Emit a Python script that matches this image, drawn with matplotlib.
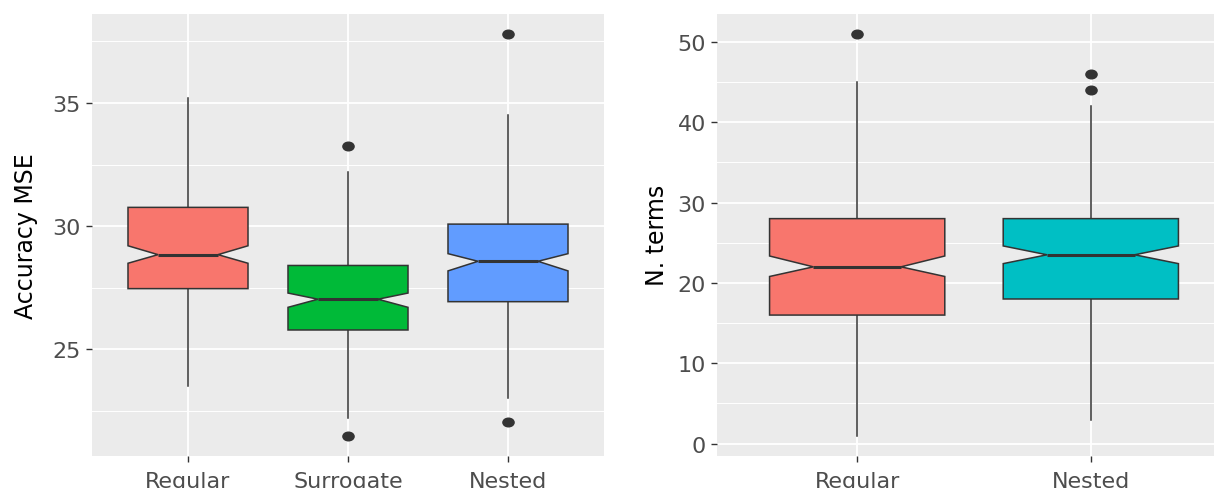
import matplotlib
matplotlib.use("Agg")
import matplotlib.pyplot as plt
from matplotlib.markers import MarkerStyle
from matplotlib.transforms import Affine2D
import numpy as np

# ---- data ----
acc_categories = ["Regular", "Surrogate", "Nested"]
acc_whislo = [23.49, 22.20, 23.01]
acc_q1 = [27.46, 25.78, 26.93]
acc_med = [28.84, 27.03, 28.57]
acc_q3 = [30.76, 28.40, 30.08]
acc_whishi = [35.20, 32.19, 34.53]
acc_cilo = [28.49, 26.70, 28.18]
acc_cihi = [29.20, 27.28, 28.88]
acc_fliers = [[], [33.24, 21.49], [37.81, 22.03]]
acc_yticks = [25, 30, 35]

nt_categories = ["Regular", "Nested"]
nt_whislo = [1.0, 3.0]
nt_q1 = [16.0, 18.0]
nt_med = [22.0, 23.5]
nt_q3 = [28.0, 28.0]
nt_whishi = [45.0, 42.0]
nt_cilo = [20.8, 22.4]
nt_cihi = [23.35, 24.6]
nt_fliers = [[51.0], [46.0, 44.0]]
nt_yticks = [0, 10, 20, 30, 40, 50]

acc_colors = ["#F8766D", "#00BA38", "#619CFF"]
nt_colors = ["#F8766D", "#00BFC4"]

plt.rcParams["font.family"] = ["DejaVu Sans"]

W, H = 1214, 489
fig = plt.figure(figsize=(W / 100, H / 100), dpi=100)
fig.patch.set_facecolor("white")

def px_axes(x0, x1, y0, y1):
    return fig.add_axes([x0 / W, 1 - y1 / H, (x1 - x0) / W, (y1 - y0) / H])

ax1 = px_axes(92, 604, 14.7, 456.7)
ax2 = px_axes(717, 1231, 14.7, 456.7)

flier_marker = MarkerStyle("o", transform=Affine2D().scale(1.3, 1.0))
EDGE = "#333333"

def draw(ax, cats, wlo, q1, med, q3, whi, cilo, cihi, fliers, colors, yticks, ylabel, labx):
    stats = []
    for i in range(len(cats)):
        stats.append(dict(label=cats[i], whislo=wlo[i], q1=q1[i], med=med[i], q3=q3[i],
                          whishi=whi[i], cilo=cilo[i], cihi=cihi[i], fliers=fliers[i]))
    pos = np.arange(1, len(cats) + 1)
    bp = ax.bxp(stats, positions=pos, widths=0.75, shownotches=True, showcaps=False,
                patch_artist=True, showfliers=True,
                boxprops=dict(edgecolor=EDGE, linewidth=1.1),
                whiskerprops=dict(color=EDGE, linewidth=1.1),
                medianprops=dict(color=EDGE, linewidth=2.2, solid_capstyle="butt"),
                flierprops=dict(marker=flier_marker, markerfacecolor=EDGE, markeredgecolor=EDGE,
                                markersize=6.2, linestyle="none"))
    for patch, c in zip(bp["boxes"], colors):
        patch.set_facecolor(c)
    for w in bp["whiskers"]:
        w.set_zorder(1.5)
    ax.set_facecolor("#EBEBEB")
    for s in ax.spines.values():
        s.set_visible(False)
    ax.set_yticks(yticks)
    step = yticks[1] - yticks[0]
    minor = [t + step / 2 for t in [yticks[0] - step] + yticks]
    ax.set_yticks(minor, minor=True)
    ax.set_xticks(pos)
    ax.set_xticklabels(cats)
    allv = [v for v in wlo + whi] + [v for f in fliers for v in f]
    lo, hi = min(allv), max(allv)
    pad = 0.05 * (hi - lo)
    ax.set_ylim(lo - pad, hi + pad)
    ax.set_xlim(0.4, len(cats) + 0.6)
    ax.grid(True, which="major", color="white", linewidth=1.3)
    ax.grid(True, which="minor", axis="y", color="white", linewidth=0.7)
    ax.set_axisbelow(True)
    ax.tick_params(axis="both", which="major", color=EDGE, width=1.0, length=4.3,
                   labelsize=16, labelcolor="#4D4D4D")
    ax.tick_params(axis="x", pad=6.5)
    ax.tick_params(axis="y", pad=3.6)
    ax.tick_params(which="minor", length=0)
    ax.set_ylabel(ylabel, fontsize=17, color="black")
    ax.yaxis.set_label_coords(labx, 0.5)

draw(ax1, acc_categories, acc_whislo, acc_q1, acc_med, acc_q3, acc_whishi, acc_cilo, acc_cihi,
     acc_fliers, acc_colors, acc_yticks, "Accuracy MSE", -0.105)
draw(ax2, nt_categories, nt_whislo, nt_q1, nt_med, nt_q3, nt_whishi, nt_cilo, nt_cihi,
     nt_fliers, nt_colors, nt_yticks, "N. terms", -0.094)

fig.savefig("out.png", dpi=100, facecolor="white")
